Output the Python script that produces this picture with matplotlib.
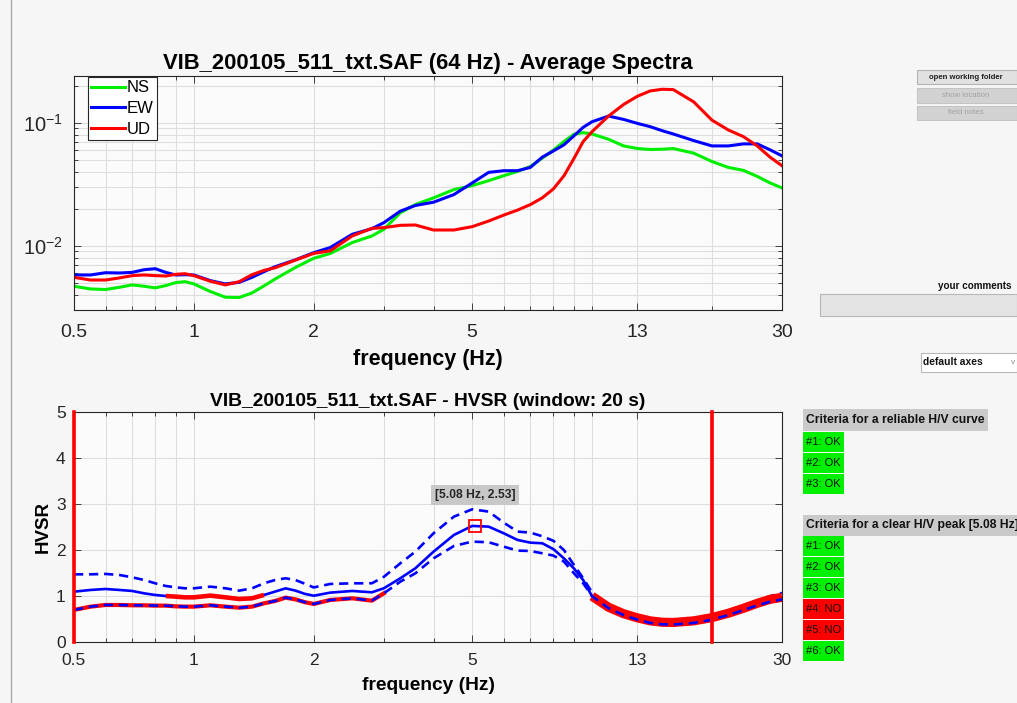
import numpy as np
import matplotlib
matplotlib.use('Agg')
import matplotlib.pyplot as plt
from matplotlib.patches import Rectangle
from matplotlib.lines import Line2D
from matplotlib.ticker import LogLocator, NullFormatter

plt.rcParams['font.family'] = 'Liberation Sans'
plt.rcParams['mathtext.fontset'] = 'custom'
plt.rcParams['mathtext.rm'] = 'Liberation Sans'
plt.rcParams['mathtext.it'] = 'Liberation Sans:italic'
plt.rcParams['mathtext.bf'] = 'Liberation Sans:bold'

#%% Data

file_name = 'VIB_200105_511_txt.SAF'

# average spectra
freq_spec = [0.5, 0.55, 0.6, 0.65, 0.7, 0.75, 0.8, 0.85, 0.9, 0.95, 1.0, 1.1, 1.2, 1.3, 1.4, 1.5, 1.6, 1.8,
             2.0, 2.2, 2.5, 2.8, 3.0, 3.3, 3.6, 4.0, 4.5, 5.0, 5.5, 6.0, 6.5, 7.0, 7.5, 8.0,
             8.5, 9.0, 9.5, 10, 11, 12, 13, 14, 15, 16, 18, 20, 22, 24, 26, 28, 30]
ns = [0.00468, 0.00445, 0.00440, 0.00459, 0.00480, 0.00468, 0.00454, 0.00474, 0.00501, 0.00510, 0.00489,
      0.00424, 0.00381, 0.00379, 0.00413, 0.00471, 0.00536, 0.00666,
      0.0079, 0.00864, 0.01061, 0.01201, 0.01359, 0.01853, 0.02163, 0.0245, 0.0286, 0.0308, 0.0338,
      0.0371, 0.0402, 0.0441, 0.0516, 0.060,
      0.0703, 0.0805, 0.0831, 0.0810, 0.0734, 0.0648, 0.0617, 0.0606, 0.0609, 0.0617, 0.0566, 0.0484,
      0.0433, 0.0410, 0.0366, 0.0324, 0.0295]
ew = [0.00578, 0.00578, 0.00603, 0.00600, 0.00607, 0.00638, 0.00650, 0.00607, 0.00578, 0.00581, 0.00578,
      0.00520, 0.00489, 0.00504, 0.00553, 0.00615, 0.00675, 0.00768,
      0.00878, 0.00966, 0.01239, 0.01376, 0.01539, 0.01911, 0.02124, 0.02259, 0.02606, 0.03237, 0.03948,
      0.04073, 0.04073, 0.04333, 0.05252, 0.059,
      0.0661, 0.0781, 0.0918, 0.1019, 0.1133, 0.1065, 0.0988, 0.0929, 0.0862, 0.0810, 0.0716, 0.0648,
      0.0648, 0.0673, 0.0673, 0.0602, 0.0538]
ud = [0.00553, 0.00526, 0.00526, 0.00547, 0.00571, 0.00578, 0.00571, 0.00567, 0.00585, 0.00592, 0.00571,
      0.00514, 0.00480, 0.00510, 0.00581, 0.00630, 0.00662, 0.00764,
      0.00866, 0.00908, 0.01201, 0.01385, 0.01402, 0.01465, 0.01474, 0.01342, 0.01342, 0.01429, 0.01587,
      0.01774, 0.01948, 0.0216, 0.0245, 0.029,
      0.037, 0.051, 0.0703, 0.0846, 0.1133, 0.1407, 0.1643, 0.1814, 0.1872, 0.1860, 0.1479, 0.1051,
      0.0873, 0.0771, 0.0648, 0.0525, 0.0447]

# HVSR curve
freq_hv = [0.5, 0.55, 0.6, 0.65, 0.7, 0.75, 0.8, 0.85, 0.9, 0.95, 1.0, 1.1, 1.2, 1.3, 1.4, 1.5, 1.6, 1.7, 1.8,
           1.9, 2.0, 2.2, 2.5, 2.8, 3.0, 3.3, 3.6, 4.0, 4.5, 5.0, 5.5, 6.0, 6.5, 7.0, 7.5, 8.0, 8.5, 9.0,
           9.5, 10, 11, 12, 13, 14, 15, 16, 18, 20, 22, 24, 26, 28, 30]
hv_mean = [1.098, 1.135, 1.156, 1.135, 1.113, 1.062, 1.026, 1.004, 0.99, 0.975, 0.975, 1.012, 0.975, 0.939,
           0.954, 1.026, 1.10, 1.17, 1.12, 1.05, 1.01, 1.077, 1.113, 1.084, 1.171, 1.388, 1.605, 1.966,
           2.328, 2.523, 2.508, 2.364, 2.219, 2.161, 2.147, 2.02, 1.82, 1.605, 1.35, 1.0, 0.76, 0.62,
           0.53, 0.465, 0.435, 0.43, 0.465, 0.535, 0.63, 0.737, 0.845, 0.932, 0.975]
hv_upper = [1.474, 1.474, 1.482, 1.46, 1.409, 1.351, 1.279, 1.221, 1.192, 1.171, 1.171, 1.207, 1.171, 1.12,
            1.171, 1.279, 1.351, 1.388, 1.35, 1.27, 1.19, 1.265, 1.279, 1.28, 1.42, 1.713, 1.966, 2.364,
            2.725, 2.884, 2.834, 2.595, 2.40, 2.378, 2.30, 2.20, 2.0, 1.68, 1.39, 1.08, 0.81, 0.66,
            0.56, 0.50, 0.47, 0.465, 0.50, 0.57, 0.68, 0.80, 0.91, 1.00, 1.07]
hv_lower = [0.701, 0.773, 0.809, 0.809, 0.802, 0.802, 0.795, 0.795, 0.78, 0.773, 0.773, 0.802, 0.773, 0.751,
            0.773, 0.845, 0.896, 0.968, 0.93, 0.87, 0.831, 0.918, 0.954, 0.903, 1.062, 1.315, 1.496, 1.821,
            2.089, 2.183, 2.169, 2.074, 1.988, 1.98, 1.93, 1.88, 1.75, 1.50, 1.28, 1.0, 0.74, 0.59,
            0.49, 0.42, 0.39, 0.385, 0.42, 0.49, 0.59, 0.70, 0.80, 0.88, 0.93]

# frequency bands flagged red on the mean and on the lower curve
red_mean_bands = [(0.85, 1.5), (10, 30)]
red_lower_bands = [(0.5, 3.0)]
band_widths = [3.3, 6.6]

peak_f = 5.08
peak_a = 2.53
f_limits = [0.5, 20]

xticks = [0.5, 1, 2, 5, 13, 30]
xtick_labels = ['0.5', '1', '2', '5', '13', '30']

crit_curve = ['#1: OK', '#2: OK', '#3: OK']
crit_peak = ['#1: OK', '#2: OK', '#3: OK', '#4: NO', '#5: NO', '#6: OK']

#%% Figure

W, H = 1017, 703
fig = plt.figure(figsize=(W / 100, H / 100), dpi=100, facecolor='#f6f6f6')

def px_box(x0, y0, x1, y1):
    # pixel box (top-left origin) -> figure fraction rect
    return [x0 / W, 1 - y1 / H, (x1 - x0) / W, (y1 - y0) / H]

def px_rect(x0, y0, x1, y1, fc, ec='none', lw=0.8):
    b = px_box(x0, y0, x1, y1)
    fig.patches.append(Rectangle((b[0], b[1]), b[2], b[3], transform=fig.transFigure,
                                 fc=fc, ec=ec, lw=lw))

def px_text(x, y, s, **kw):
    fig.text(x / W, 1 - y / H, s, **kw)

dark = '#262626'
grid_c = '#dedede'

def style_axes(ax):
    ax.set_facecolor('#fbfbfb')
    ax.set_xscale('log')
    ax.set_xlim(0.5, 30)
    ax.set_xticks(xticks, labels=xtick_labels)
    ax.xaxis.set_minor_locator(LogLocator(base=10, subs=np.arange(1, 10) * 1.0, numticks=30))
    ax.xaxis.set_minor_formatter(NullFormatter())
    ax.tick_params(which='both', direction='in', top=True, right=True, colors=dark, width=0.6)
    ax.tick_params(which='major', length=5)
    ax.tick_params(which='minor', length=3)
    ax.grid(True, which='both', color=grid_c, lw=0.8)
    ax.set_axisbelow(True)
    for s in ax.spines.values():
        s.set_color(dark)
        s.set_linewidth(0.8)

#%% Average spectra

ax1 = fig.add_axes(px_box(74, 76, 782, 310))
style_axes(ax1)
ax1.set_yscale('log')
ax1.set_ylim(0.0030, 0.24)
ax1.plot(freq_spec, ns, color='#00ee00', lw=2.2, label='NS')
ax1.plot(freq_spec, ew, color='#0000ff', lw=2.2, label='EW')
ax1.plot(freq_spec, ud, color='#ff0000', lw=2.2, label='UD')
ax1.set_yticks([1e-2, 1e-1], labels=['$10^{-2}$', '$10^{-1}$'])
ax1.yaxis.set_minor_locator(LogLocator(base=10, subs=np.arange(2, 10) * 1.0, numticks=30))
ax1.yaxis.set_minor_formatter(NullFormatter())
ax1.tick_params(axis='x', labelsize=14, pad=10)
ax1.tick_params(axis='y', labelsize=14.5, pad=8)
ax1.set_xlabel('frequency (Hz)', fontsize=15.5, fontweight='bold', labelpad=5.5)
ax1.set_title(file_name + ' (64 Hz) - Average Spectra', fontsize=15.8, fontweight='bold', pad=5)
leg = ax1.legend(loc='upper left', bbox_to_anchor=(14 / 708, 1 - 1 / 234), borderaxespad=0,
                 fontsize=12, fancybox=False, framealpha=1, edgecolor=dark, borderpad=0.2,
                 handlelength=2.0, handletextpad=0.1, labelspacing=0.35)
leg.get_frame().set_linewidth(0.8)

#%% HVSR

ax2 = fig.add_axes(px_box(74, 411.7, 782, 642.3))
style_axes(ax2)
ax2.set_ylim(0, 5)
ax2.set_yticks([0, 1, 2, 3, 4, 5])
f_hv = np.array(freq_hv)
ax2.plot(f_hv, hv_mean, color='#0000ff', lw=1.9, zorder=2)
ax2.plot(f_hv, hv_upper, color='#0000ff', lw=1.9, ls=(0, (3.5, 2.2)), zorder=2.5)
for (f0, f1), w in zip(red_mean_bands, band_widths):
    m = (f_hv >= f0) & (f_hv <= f1)
    ax2.plot(f_hv[m], np.array(hv_mean)[m], color='#ff0000', lw=w, solid_capstyle='butt', zorder=3)
for f0, f1 in red_lower_bands:
    m = (f_hv >= f0) & (f_hv <= f1)
    ax2.plot(f_hv[m], np.array(hv_lower)[m], color='#ff0000', lw=3.0, zorder=3)
ax2.plot(f_hv, hv_lower, color='#0000ff', lw=1.9, ls=(0, (3.5, 2.2)), zorder=4)
for fl in f_limits:
    ax2.axvline(fl, color='#ff0000', lw=2.6, zorder=5, clip_on=False)
ax2.plot([peak_f], [peak_a], marker='s', ms=8, mfc='none', mec='#ff0000', mew=1.3, zorder=6)
ax2.annotate('[%.2f Hz, %.2f]' % (peak_f, peak_a), xy=(peak_f, peak_a), xytext=(0, 22),
             textcoords='offset points', ha='center', va='center', fontsize=8.7, fontweight='bold',
             color=dark, bbox=dict(boxstyle='square,pad=0.3', fc='#c8c8c8', ec='none'), zorder=7)
ax2.tick_params(axis='both', labelsize=12.5)
ax2.tick_params(axis='x', pad=8)
ax2.tick_params(axis='y', pad=6)
ax2.set_xlabel('frequency (Hz)', fontsize=13.8, fontweight='bold', labelpad=6)
ax2.set_ylabel('HVSR', fontsize=13.5, fontweight='bold', labelpad=3)
ax2.set_title(file_name + ' - HVSR (window: 20 s)', fontsize=13.9, fontweight='bold', pad=4)

#%% Side panel widgets

fig.add_artist(Line2D([11 / W, 11 / W], [0, 1], transform=fig.transFigure, color='#a8a8a8', lw=1))

px_rect(916.7, 70, 1017, 84.3, '#e1e1e1', '#b4b4b4')
px_text(966, 77.2, 'open working folder', fontsize=5.6, fontweight='bold', color='#202020',
        ha='center', va='center')
px_rect(916.7, 88.3, 1017, 102.7, '#d2d2d2', '#c4c4c4')
px_text(966, 95.5, 'show location', fontsize=5.6, color='#a2a2a2', ha='center', va='center')
px_rect(916.7, 105.7, 1017, 120, '#d2d2d2', '#c4c4c4')
px_text(966, 112.8, 'field notes', fontsize=5.6, color='#a2a2a2', ha='center', va='center')

px_text(1011, 286, 'your comments', fontsize=7.1, fontweight='bold', color='#111111',
        ha='right', va='center')
px_rect(820, 294.3, 1017, 316, '#e4e4e4', '#b8b8b8')

px_rect(920.7, 353, 1017, 371.7, '#ffffff', '#b8b8b8')
px_text(923, 362.3, 'default axes', fontsize=7.4, fontweight='bold', color='#111111',
        ha='left', va='center')
px_text(1013, 362.3, 'v', fontsize=6, color='#888888', ha='center', va='center')

px_rect(802.7, 409.3, 988.3, 431, '#cacaca')
px_text(806, 420.2, 'Criteria for a reliable H/V curve', fontsize=8.7, fontweight='bold',
        color='#111111', ha='left', va='center')
for i, lab in enumerate(crit_curve):
    y0 = 431 + i * 21
    px_rect(802.7, y0 + 0.6, 844.3, y0 + 20.6, '#00f000' if lab.endswith('OK') else '#ff0000')
    px_text(806, y0 + 10.6, lab, fontsize=8, color='#111111', ha='left', va='center')

px_rect(802.7, 515, 1017, 535.7, '#cacaca')
px_text(806, 525.4, 'Criteria for a clear H/V peak [%.2f Hz]' % peak_f, fontsize=8.7,
        fontweight='bold', color='#111111', ha='left', va='center')
for i, lab in enumerate(crit_peak):
    y0 = 535.7 + i * 21
    px_rect(802.7, y0 + 0.6, 844.3, y0 + 20.6, '#00f000' if lab.endswith('OK') else '#ff0000')
    px_text(806, y0 + 10.6, lab, fontsize=8, color='#111111', ha='left', va='center')

fig.savefig('out.png', dpi=100, facecolor=fig.get_facecolor())
